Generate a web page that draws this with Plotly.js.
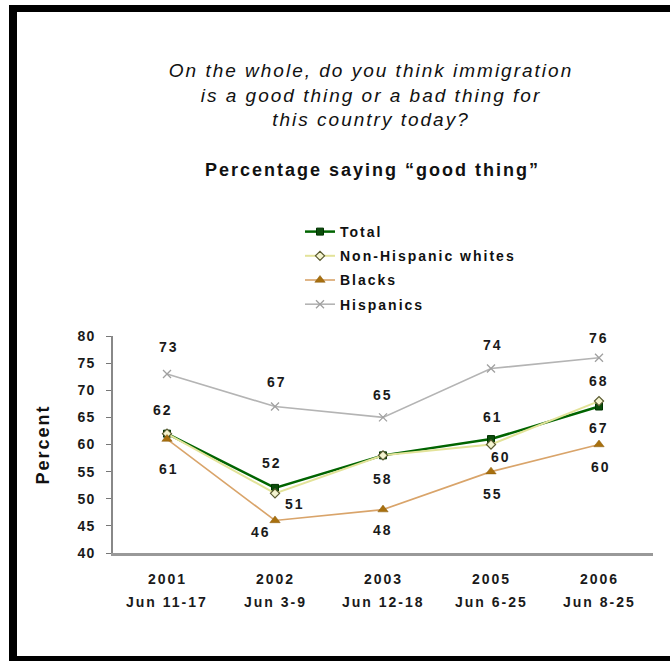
<!DOCTYPE html>
<html>
<head>
<meta charset="utf-8">
<script src="https://cdn.plot.ly/plotly-3.0.1.min.js"></script>
<style>
  html, body { margin: 0; padding: 0; background: #ffffff; }
  #chart { width: 670px; height: 661px; }
  svg text { letter-spacing: 2px; }
  #chart svg .ytick text { letter-spacing: 1px; }
</style>
</head>
<body>
<div id="chart"></div>
<script>
// ---- Data ----
const categories = ["2001", "2002", "2003", "2005", "2006"];
const tickYears = ["2001", "2002", "2003", "2005", "2006"];
const tickDates = ["Jun 11-17", "Jun 3-9", "Jun 12-18", "Jun 6-25", "Jun 8-25"];

const totalValues = [62, 52, 58, 61, 67];
const whitesValues = [62, 51, 58, 60, 68];
const blacksValues = [61, 46, 48, 55, 60];
const hispanicsValues = [73, 67, 65, 74, 76];

const seriesNames = ["Total", "Non-Hispanic whites", "Blacks", "Hispanics"];

// ---- Label placement (styling, not data): [xshift, yshift] in px; null = no label ----
const totalLabelPos = [[-4, 24], [-3, 25], null, [2, 22], [0, -21]];
const whitesLabelPos = [null, [20, -11], [0, -24], [10, -12], [0, 20]];
const blacksLabelPos = [[2, -30], [-14, -12], [0, -20], [2, -22], [2, -22]];
const hispanicsLabelPos = [[2, 27], [2, 25], [0, 22], [2, 24], [0, 20]];

const FAM = "Liberation Sans, Arial, sans-serif";
const boldFont = { family: FAM, size: 14, color: "#1a1a1a", weight: "bold" };

const traces = [
  {
    x: categories, y: totalValues, name: seriesNames[0], type: "scatter", mode: "lines+markers",
    line: { color: "#006400", width: 2.5 },
    marker: { symbol: "square", size: 7, color: "#0b4d0b", line: { color: "#003300", width: 1 } },
    legendgroup: "g1"
  },
  {
    x: categories, y: whitesValues, name: seriesNames[1], type: "scatter", mode: "lines+markers",
    line: { color: "#e3e39a", width: 2 },
    marker: { symbol: "diamond", size: 7, color: "#f4f4d0", line: { color: "#5a5a30", width: 1.2 } },
    legendgroup: "g2"
  },
  {
    x: categories, y: blacksValues, name: seriesNames[2], type: "scatter", mode: "lines+markers",
    line: { color: "#d9a46a", width: 1.6 },
    marker: { symbol: "triangle-up", size: 9, color: "#a8700e", line: { color: "#8a5a08", width: 0.5 } },
    legendgroup: "g3"
  },
  {
    x: categories, y: hispanicsValues, name: seriesNames[3], type: "scatter", mode: "lines+markers",
    line: { color: "#b4b4b4", width: 1.6 },
    marker: { symbol: "x-thin", size: 8, color: "#a0a0a0", line: { color: "#a0a0a0", width: 1.3 } },
    legendgroup: "g4"
  }
];

const annotations = [];
function addLabels(values, pos) {
  values.forEach((v, i) => {
    if (!pos[i]) return;
    annotations.push({
      x: i, y: v, xref: "x", yref: "y", text: String(v), showarrow: false,
      xshift: pos[i][0], yshift: pos[i][1], font: boldFont
    });
  });
}
addLabels(totalValues, totalLabelPos);
addLabels(whitesValues, whitesLabelPos);
addLabels(blacksValues, blacksLabelPos);
addLabels(hispanicsValues, hispanicsLabelPos);

// x-axis two-line labels (category index positions)
categories.forEach((c, i) => {
  annotations.push({ x: i, y: 0, xref: "x", yref: "paper", text: tickYears[i], showarrow: false,
    yanchor: "middle", yshift: -26, font: boldFont });
  annotations.push({ x: i, y: 0, xref: "x", yref: "paper", text: tickDates[i], showarrow: false,
    yanchor: "middle", yshift: -49, font: boldFont });
});

// subtitle
annotations.push({
  x: 0.48, y: 1.765, xref: "paper", yref: "paper", text: "Percentage saying \u201cgood thing\u201d",
  showarrow: false, xanchor: "center", yanchor: "middle",
  font: { family: FAM, size: 18, color: "#111", weight: "bold" }
});

// frame (paper coords: x px = 113 + x*540, y px = 553 - y*217)
const px = (p) => (p - 113) / 540;
const py = (p) => (553 - p) / 217;
const shapes = [
  { type: "rect", xref: "paper", yref: "paper", x0: px(9), x1: px(17), y0: py(661), y1: py(5), fillcolor: "#000", line: { width: 0 } },
  { type: "rect", xref: "paper", yref: "paper", x0: px(9), x1: px(672), y0: py(12), y1: py(5), fillcolor: "#000", line: { width: 0 } },
  { type: "rect", xref: "paper", yref: "paper", x0: px(9), x1: px(672), y0: py(663), y1: py(656), fillcolor: "#000", line: { width: 0 } }
];

const layout = {
  width: 670, height: 661,
  margin: { l: 113, r: 17, t: 336, b: 108, pad: 0 },
  paper_bgcolor: "#ffffff", plot_bgcolor: "#ffffff",
  showlegend: true,
  title: {
    text: "<i>On the whole, do you think immigration<br>is a good thing or a bad thing for<br>this country today?</i>",
    x: 371 / 670, xanchor: "center", xref: "container",
    y: 1 - 77 / 661, yanchor: "top", yref: "container",
    font: { family: FAM, size: 19, color: "#111" }
  },
  xaxis: {
    type: "category", range: [-0.5, 4.5], showticklabels: false, ticks: "",
    showline: true, linecolor: "#999999", linewidth: 3, showgrid: false, zeroline: false, fixedrange: true
  },
  yaxis: {
    range: [40, 80], dtick: 5, tick0: 40, ticks: "outside", ticklen: 5, tickcolor: "#777", tickwidth: 1,
    showline: true, linecolor: "#888888", linewidth: 2, showgrid: false, zeroline: false,
    tickfont: boldFont, ticklabelstandoff: 8,
    title: { text: "Percent", standoff: 21, font: { family: FAM, size: 18, color: "#111", weight: "bold" } }
  },
  legend: {
    x: px(300), xanchor: "left", y: py(216), yanchor: "top",
    font: { family: FAM, size: 14, color: "#111", weight: "bold" },
    bgcolor: "rgba(0,0,0,0)", borderwidth: 0, tracegroupgap: 3, itemwidth: 30, traceorder: "grouped"
  },
  annotations: annotations,
  shapes: shapes
};

Plotly.newPlot("chart", traces, layout, { displayModeBar: false, staticPlot: true });
</script>
</body>
</html>
